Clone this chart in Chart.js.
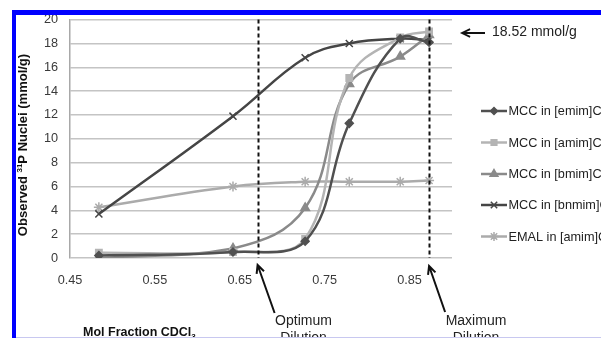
<!DOCTYPE html>
<html>
<head>
<meta charset="utf-8">
<script src="https://cdn.jsdelivr.net/npm/chart.js"></script>
<style>
  html, body { margin: 0; padding: 0; background: #fff; }
  #chart { display: block; }
</style>
</head>
<body>
<canvas id="chart" width="601" height="338"></canvas>
<script>
// --- Data ---
const xValues = [0.484, 0.642, 0.727, 0.779, 0.839, 0.873];
const emimValues = [0.2, 0.5, 1.4, 11.3, 18.4, 18.1];
const amimValues = [0.45, 0.5, 1.6, 15.1, 18.5, 19.0];
const bmimValues = [0.0, 0.8, 4.2, 14.6, 16.9, 18.7];
const bnmimValues = [3.7, 11.9, 16.8, 18.0, 18.4, 18.3];
const emalValues = [4.25, 6.0, 6.4, 6.4, 6.4, 6.5];
const seriesLabels = ['MCC in [emim]Cl', 'MCC in [amim]Cl', 'MCC in [bmim]Cl', 'MCC in [bnmim]Cl', 'EMAL in [amim]Cl'];
const xTickValues = [0.45, 0.55, 0.65, 0.75, 0.85];
const optimumX = 0.671;
const maximumX = 0.873;

const FONT = '"Liberation Sans", Arial, sans-serif';

function toPoints(values) {
    return values.map((v, i) => ({ x: xValues[i], y: v }));
}

const seriesStyles = [
    { color: '#505050', pointStyle: 'rectRot', radius: 4 },
    { color: '#b4b4b4', pointStyle: 'rect', radius: 4.5 },
    { color: '#8a8a8a', pointStyle: 'triangle', radius: 5 },
    { color: '#454545', pointStyle: 'crossRot', radius: 5 },
    { color: '#ababab', pointStyle: 'star', radius: 5 }
];
const seriesValues = [emimValues, amimValues, bmimValues, bnmimValues, emalValues];

const datasets = seriesValues.map((vals, i) => ({
    label: seriesLabels[i],
    data: toPoints(vals),
    borderColor: seriesStyles[i].color,
    backgroundColor: seriesStyles[i].color,
    pointBackgroundColor: seriesStyles[i].color,
    pointBorderColor: seriesStyles[i].color,
    pointStyle: seriesStyles[i].pointStyle,
    pointRadius: seriesStyles[i].radius,
    pointBorderWidth: 1.5,
    borderWidth: 2.5,
    tension: 0.4,
    fill: false
}));

function arrow(ctx, x1, y1, x2, y2) {
    // from tail (x1,y1) to tip (x2,y2)
    const a = Math.atan2(y2 - y1, x2 - x1);
    const h = 9;
    ctx.beginPath();
    ctx.moveTo(x1, y1);
    ctx.lineTo(x2, y2);
    ctx.moveTo(x2 - h * Math.cos(a - 0.45), y2 - h * Math.sin(a - 0.45));
    ctx.lineTo(x2, y2);
    ctx.lineTo(x2 - h * Math.cos(a + 0.45), y2 - h * Math.sin(a + 0.45));
    ctx.stroke();
}

const decor = {
    id: 'decor',
    beforeDraw(chart) {
        const ctx = chart.ctx;
        ctx.save();
        ctx.fillStyle = '#fff';
        ctx.fillRect(0, 0, chart.width, chart.height);
        ctx.restore();
    },
    afterDraw(chart) {
        const ctx = chart.ctx;
        const xs = chart.scales.x, ys = chart.scales.y;
        ctx.save();

        // dashed dilution lines
        ctx.strokeStyle = '#111';
        ctx.lineWidth = 2;
        ctx.setLineDash([4, 3]);
        [optimumX, maximumX].forEach(v => {
            const px = Math.round(xs.getPixelForValue(v)) + 0.5;
            ctx.beginPath();
            ctx.moveTo(px, ys.top);
            ctx.lineTo(px, ys.bottom);
            ctx.stroke();
        });
        ctx.setLineDash([]);

        // arrows
        ctx.lineWidth = 2;
        const optPx = xs.getPixelForValue(optimumX);
        const maxPx = xs.getPixelForValue(maximumX);
        arrow(ctx, optPx + 17, 313, optPx, 265);
        arrow(ctx, maxPx + 16, 312, maxPx, 266);
        ctx.lineWidth = 1.8;
        arrow(ctx, 485, 33, 462, 33);

        // annotation text
        ctx.fillStyle = '#222';
        ctx.font = '14px ' + FONT;
        ctx.textBaseline = 'middle';
        ctx.textAlign = 'left';
        ctx.fillText('18.52 mmol/g', 492, 32);
        ctx.textAlign = 'center';
        ctx.fillText('Optimum', 303.5, 321);
        ctx.fillText('Dilution', 303.5, 338);
        ctx.fillText('Maximum', 476, 321);
        ctx.fillText('Dilution', 476, 338);

        // legend
        const legendY = [111, 142.5, 174, 205, 236.5];
        ctx.font = '12.7px ' + FONT;
        ctx.textAlign = 'left';
        chart.data.datasets.forEach((ds, i) => {
            const y = legendY[i];
            ctx.strokeStyle = ds.borderColor;
            ctx.lineWidth = 2.5;
            ctx.beginPath();
            ctx.moveTo(481, y);
            ctx.lineTo(507, y);
            ctx.stroke();
            ctx.fillStyle = ds.borderColor;
            ctx.strokeStyle = ds.borderColor;
            ctx.lineWidth = 1.5;
            Chart.helpers.drawPoint(ctx, { pointStyle: ds.pointStyle, radius: ds.pointRadius - 0.5, rotation: 0, borderWidth: 1.5 }, 494, y);
            ctx.fillStyle = '#222';
            ctx.fillText(ds.label, 508.5, y + 0.5);
        });

        // y title
        ctx.save();
        ctx.translate(22, 145);
        ctx.rotate(-Math.PI / 2);
        ctx.fillStyle = '#111';
        const big = 'bold 13px ' + FONT, small = 'bold 8px ' + FONT;
        ctx.font = big;
        const p1 = 'Observed ', p3 = 'P Nuclei (mmol/g)';
        const w1 = ctx.measureText(p1).width, w3 = ctx.measureText(p3).width;
        ctx.font = small;
        const w2 = ctx.measureText('31').width;
        let tx = -(w1 + w2 + w3) / 2;
        ctx.textAlign = 'left';
        ctx.textBaseline = 'alphabetic';
        ctx.font = big;
        ctx.fillText(p1, tx, 4.6);
        ctx.font = small;
        ctx.fillText('31', tx + w1, -0.5);
        ctx.font = big;
        ctx.fillText(p3, tx + w1 + w2, 4.6);
        ctx.restore();

        // x title
        ctx.fillStyle = '#111';
        ctx.textAlign = 'left';
        ctx.textBaseline = 'alphabetic';
        ctx.font = 'bold 12.5px ' + FONT;
        const xt = 'Mol Fraction CDCl';
        ctx.fillText(xt, 83, 336);
        const xw = ctx.measureText(xt).width;
        ctx.font = 'bold 8px ' + FONT;
        ctx.fillText('3', 83 + xw, 339);

        // blue frame
        ctx.fillStyle = '#0000ff';
        ctx.fillRect(12, 10, chart.width - 12, 5);
        ctx.fillRect(12, 10, 4, chart.height - 10);
        ctx.fillStyle = '#c8c8f0';
        ctx.fillRect(16, 337, chart.width - 16, 1);

        ctx.restore();
    }
};

new Chart(document.getElementById('chart').getContext('2d'), {
    type: 'line',
    data: { datasets: datasets },
    options: {
        responsive: false,
        animation: false,
        devicePixelRatio: 1,
        layout: { padding: { left: 16, top: 16, right: 149, bottom: 0 } },
        plugins: {
            legend: { display: false },
            tooltip: { enabled: false }
        },
        scales: {
            x: {
                type: 'linear',
                min: 0.45,
                max: 0.9,
                afterBuildTicks: s => { s.ticks = xTickValues.map(v => ({ value: v })); },
                afterFit: s => { s.height = 80; },
                grid: { display: false, drawTicks: false },
                border: { display: false },
                ticks: {
                    padding: 15,
                    color: '#3a3a3a',
                    font: { family: FONT, size: 12.7 },
                    maxRotation: 0,
                    callback: v => Number(v).toFixed(2)
                }
            },
            y: {
                min: 0,
                max: 20,
                afterFit: s => { s.width = 54; },
                grid: { color: '#c4c4c4', lineWidth: 1.5, drawTicks: false },
                border: { display: true, color: '#a8a8a8', width: 1.5 },
                ticks: {
                    stepSize: 2,
                    padding: 12,
                    color: '#3a3a3a',
                    font: { family: FONT, size: 12.7 }
                }
            }
        }
    },
    plugins: [decor]
});
</script>
</body>
</html>
